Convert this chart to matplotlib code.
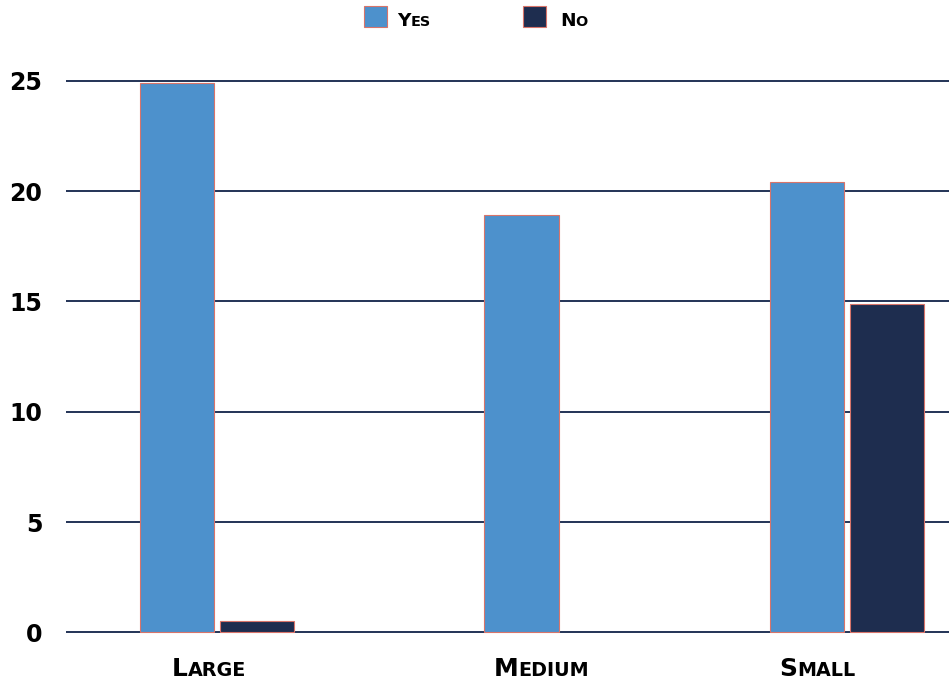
import matplotlib
matplotlib.use('Agg')
import matplotlib.pyplot as plt
from matplotlib.patches import Rectangle
from matplotlib.transforms import offset_copy, blended_transform_factory

# company size vs answer counts
sizes = ['Large', 'Medium', 'Small']
yes_counts = [24.9, 18.9, 20.4]
no_counts = [0.5, 0, 14.9]
y_ticks = [0, 5, 10, 15, 20, 25]

YES_BLUE = '#4d91cc'
NO_NAVY = '#1e2d4f'
EDGE = '#d8746a'
GRID = '#233356'

# groups are not evenly spaced here
group_x = [0.0, 1.095, 2.0]
label_x = [-0.025, 1.03, 1.905]
bar_w = 0.238
shift = 0.127

plt.rcParams['font.family'] = 'DejaVu Sans'
plt.rcParams['font.weight'] = 'bold'

fig = plt.figure(figsize=(9.49, 6.83), dpi=100)
ax = fig.add_axes([66 / 949, 0.0578, 1 - 66 / 949, 0.8401])

ax.bar([x - shift for x in group_x], yes_counts, bar_w, color=YES_BLUE,
       edgecolor=EDGE, linewidth=0.8, zorder=3)
no_x = [x + shift for x, v in zip(group_x, no_counts) if v > 0]
no_v = [v for v in no_counts if v > 0]
ax.bar(no_x, no_v, bar_w, color=NO_NAVY, edgecolor=EDGE, linewidth=0.8, zorder=3)

ax.set_xlim(-0.4794, 2.3238)
ax.set_ylim(-0.5, 25.5)
ax.set_yticks(y_ticks)
ax.set_xticks([])
ax.grid(axis='y', color=GRID, linewidth=1.4)
ax.set_axisbelow(True)
ax.tick_params(axis='y', length=0, pad=17, labelsize=17)
for sp in ax.spines.values():
    sp.set_visible(False)

renderer = fig.canvas.get_renderer()


def small_caps(x, y, word, big, small, transform, align='center'):
    head = fig.text(x, y, word[0].upper(), size=big, weight='bold',
                    ha='left', va='baseline', transform=transform)
    tail = fig.text(x, y, word[1:].upper(), size=small, weight='bold',
                    ha='left', va='baseline', transform=transform)
    w1 = head.get_window_extent(renderer).width
    w2 = tail.get_window_extent(renderer).width
    start = -(w1 + w2) / 2 if align == 'center' else 0
    k = 72 / fig.dpi
    head.set_transform(offset_copy(transform, fig=fig, x=start * k, units='points'))
    tail.set_transform(offset_copy(transform, fig=fig, x=(start + w1) * k, units='points'))


# category labels under the groups
lab_tr = blended_transform_factory(ax.transData, fig.transFigure)
for x, name in zip(label_x, sizes):
    small_caps(x, 7 / 683, name, 18, 13.8, lab_tr)

# legend across the top
for left, col, txt_left, name in [(364, YES_BLUE, 397, 'Yes'), (523, NO_NAVY, 560, 'No')]:
    fig.add_artist(Rectangle((left / 949, 1 - 27 / 683), 23 / 949, 21 / 683,
                             transform=fig.transFigure, facecolor=col,
                             edgecolor=EDGE, linewidth=0.8))
    small_caps(txt_left / 949, 1 - 25.5 / 683, name, 13.3, 10.4,
               fig.transFigure, align='left')

fig.savefig('out.png', dpi=100)
